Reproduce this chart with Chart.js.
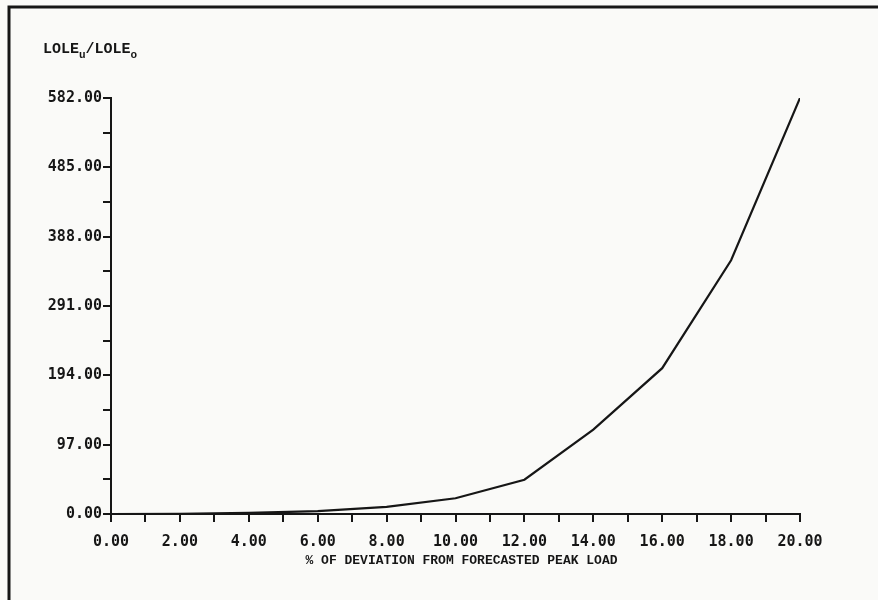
<!DOCTYPE html>
<html>
<head>
<meta charset="utf-8">
<title>LOLE ratio vs deviation</title>
<script src="https://cdn.jsdelivr.net/npm/chart.js@4.4.1/dist/chart.umd.min.js"></script>
<style>
    html, body { margin: 0; padding: 0; background: #fafaf8; }
    #wrap { position: relative; width: 878px; height: 600px; }
</style>
</head>
<body>
<div id="wrap"><canvas id="lole"></canvas></div>
<script>
// % deviation from forecasted peak load
const deviation = [0, 2, 4, 6, 8, 10, 12, 14, 16, 18, 20];
// LOLE_u / LOLE_o
const loleRatio = [0, 0.3, 1.5, 4, 10, 22, 48, 118, 204, 355, 582];

const xTitle = '% OF DEVIATION FROM FORECASTED PEAK LOAD';
const yTitle = ['LOLE', 'u', '/LOLE', 'o'];   // text, subscript, text, subscript

const ink = '#161616';
const tickFont = { family: "'DejaVu Sans Mono', monospace", size: 15, weight: 'bold' };

// frame of the scanned page plus the two axis titles
const paperPlugin = {
    id: 'paper',
    beforeDraw(chart) {
        const ctx = chart.ctx;
        ctx.save();
        ctx.strokeStyle = ink;
        ctx.lineWidth = 3;
        ctx.beginPath();
        ctx.moveTo(9, 600);
        ctx.lineTo(9, 7);
        ctx.lineTo(878, 7);
        ctx.stroke();
        ctx.restore();
    },
    afterDraw(chart) {
        const ctx = chart.ctx;
        const area = chart.chartArea;
        ctx.save();
        ctx.fillStyle = ink;

        // y title with subscripts
        let x = 43;
        const base = 53;
        yTitle.forEach((part, i) => {
            const sub = i % 2 === 1;
            ctx.font = sub ? "bold 11px 'Liberation Mono', monospace" : "bold 15px 'Liberation Mono', monospace";
            ctx.textBaseline = 'alphabetic';
            ctx.fillText(part, x, sub ? base + 5 : base);
            x += ctx.measureText(part).width;
        });

        // x title
        ctx.font = "bold 13px 'Liberation Mono', monospace";
        ctx.textAlign = 'center';
        ctx.textBaseline = 'middle';
        ctx.fillText(xTitle, (area.left + area.right) / 2 + 6, 561);
        ctx.restore();
    }
};

const ctx = document.getElementById('lole').getContext('2d');
new Chart(ctx, {
    type: 'line',
    data: {
        datasets: [{
            data: deviation.map((d, i) => ({ x: d, y: loleRatio[i] })),
            borderColor: ink,
            borderWidth: 2.2,
            pointRadius: 0,
            tension: 0,
            fill: false
        }]
    },
    options: {
        responsive: true,
        maintainAspectRatio: false,
        animation: false,
        layout: { padding: { left: 0, top: 98, right: 78, bottom: 0 } },
        plugins: {
            legend: { display: false },
            tooltip: { enabled: false }
        },
        scales: {
            x: {
                type: 'linear',
                min: 0,
                max: 20,
                afterFit: scale => { scale.height = 86; },
                border: { display: true, color: ink, width: 2 },
                grid: { drawOnChartArea: false, drawTicks: true, tickLength: 8, color: ink, lineWidth: 2 },
                ticks: {
                    stepSize: 1,
                    padding: 11,
                    maxRotation: 0,
                    autoSkip: false,
                    color: ink,
                    font: tickFont,
                    callback: v => (v % 2 === 0 ? v.toFixed(2) : '')
                }
            },
            y: {
                min: 0,
                max: 582,
                afterFit: scale => { scale.width = 111; },
                border: { display: true, color: ink, width: 2 },
                grid: { drawOnChartArea: false, drawTicks: true, tickLength: 8, color: ink, lineWidth: 2 },
                ticks: {
                    stepSize: 48.5,
                    padding: 1,
                    autoSkip: false,
                    color: ink,
                    font: tickFont,
                    callback: (v, i) => (i % 2 === 0 ? v.toFixed(2) : '')
                }
            }
        }
    },
    plugins: [paperPlugin]
});
</script>
</body>
</html>
